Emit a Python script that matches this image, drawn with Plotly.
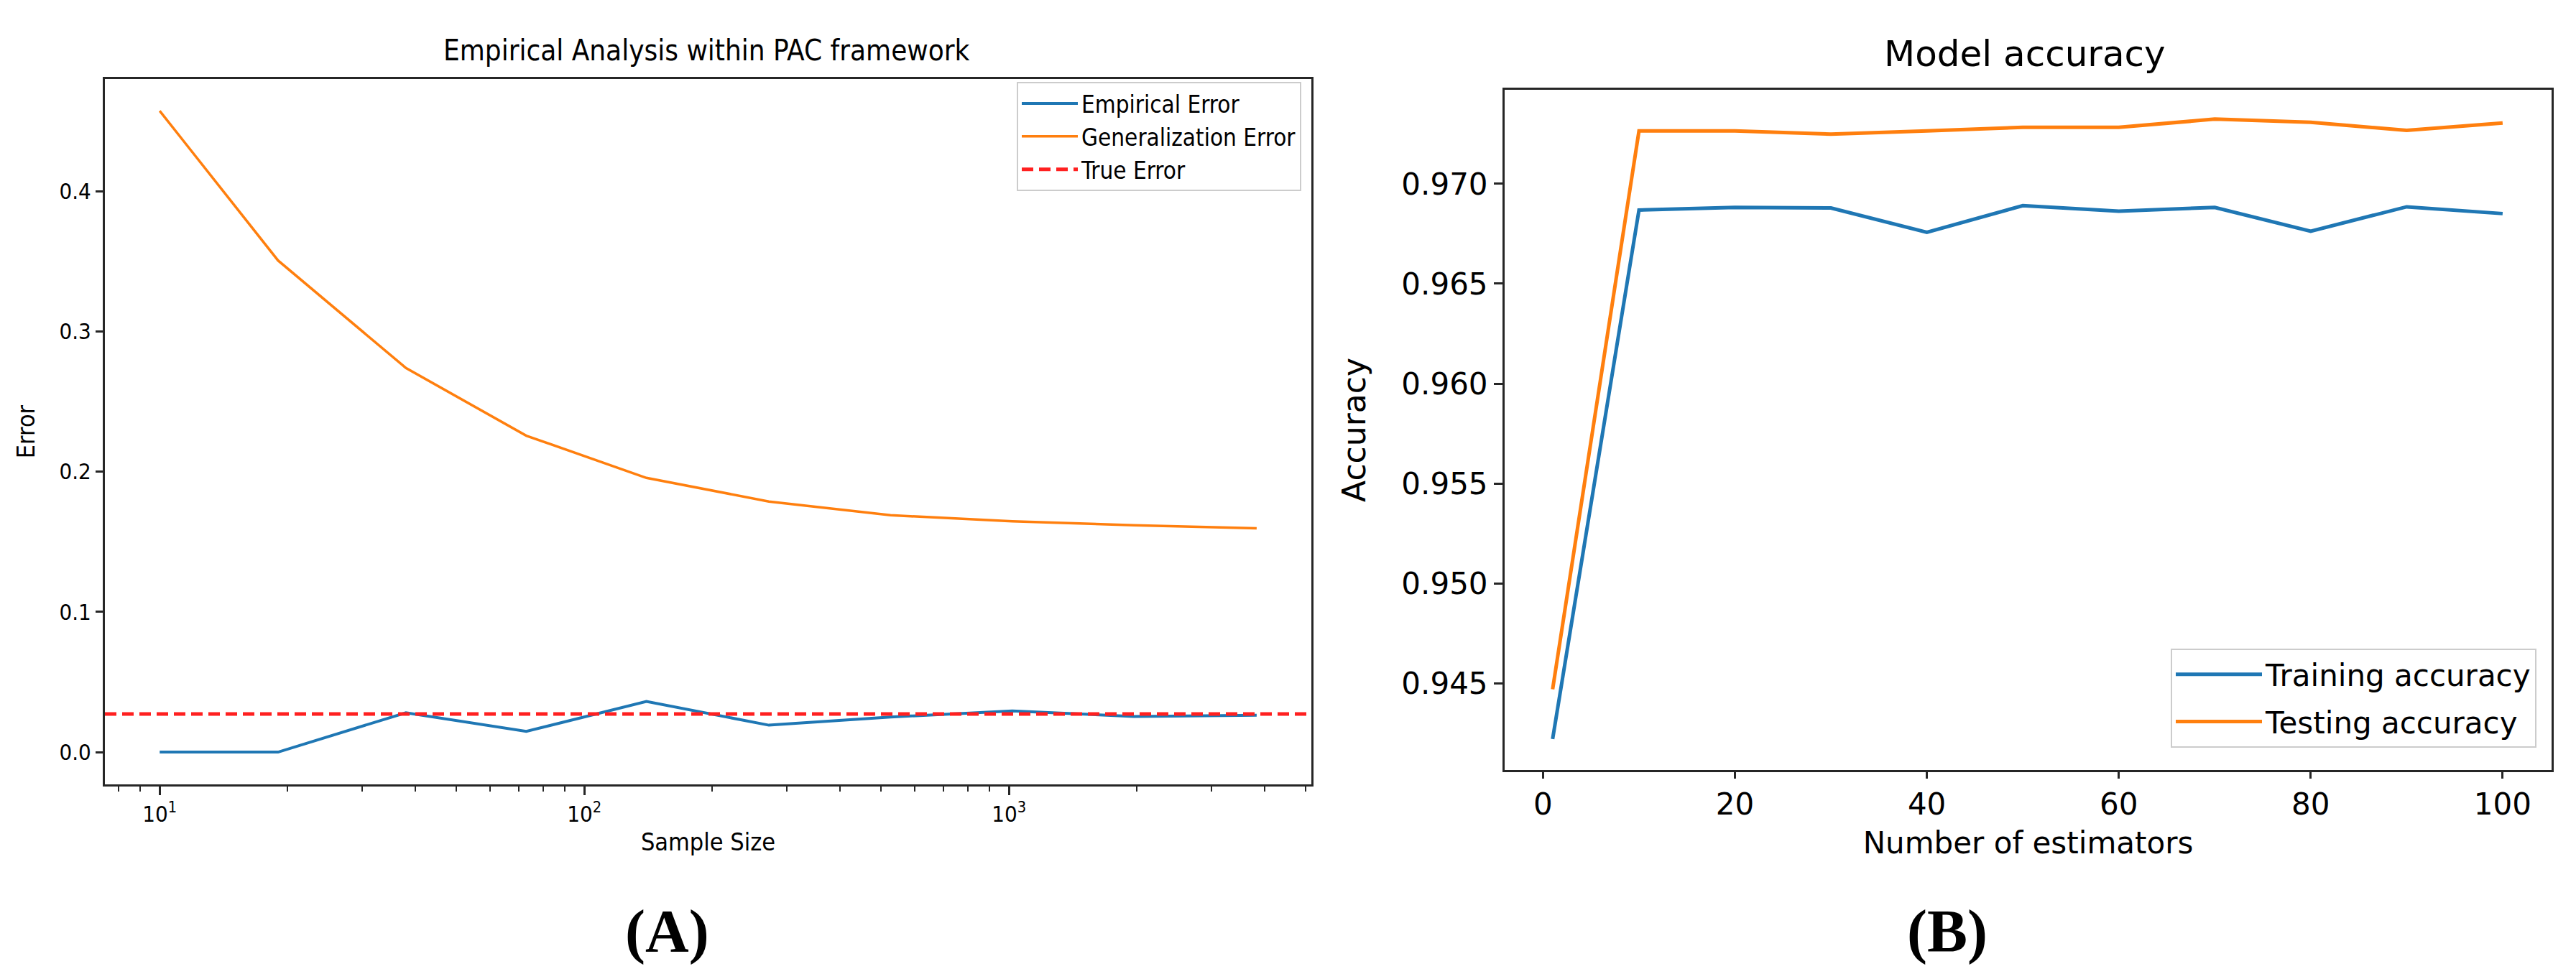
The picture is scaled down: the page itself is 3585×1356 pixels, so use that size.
import plotly.graph_objects as go

# ---------------- Panel A data ----------------
sample_sizes = [10, 19, 38, 73, 140, 272, 526, 1018, 1970, 3830]
empirical_error = [0.0, 0.0, 0.0281, 0.0148, 0.0361, 0.0192, 0.0250, 0.0294, 0.0254, 0.0263]
generalization_error = [0.4572, 0.3505, 0.2739, 0.2256, 0.1955, 0.1787, 0.1689, 0.1645, 0.1618, 0.1596]
true_error = 0.0272
a_ytick_vals = [0.0, 0.1, 0.2, 0.3, 0.4]
a_xtick_vals = [10, 100, 1000]
a_xtick_text = ["10<sup>1</sup>", "10<sup>2</sup>", "10<sup>3</sup>"]
a_minor_vals = [7, 8, 9, 20, 30, 40, 50, 60, 70, 80, 90,
                200, 300, 400, 500, 600, 700, 800, 900,
                2000, 3000, 4000, 5000]

# ---------------- Panel B data ----------------
n_estimators = [1, 10, 20, 30, 40, 50, 60, 70, 80, 90, 100]
training_acc = [0.9422, 0.96869, 0.96882, 0.96879, 0.96757, 0.96891, 0.96863, 0.96882, 0.96763, 0.96885, 0.96851]
testing_acc = [0.94469, 0.97265, 0.97265, 0.97249, 0.97265, 0.97283, 0.97283, 0.97324, 0.97308, 0.97268, 0.97305]
b_ytick_vals = [0.945, 0.950, 0.955, 0.960, 0.965, 0.970]
b_xtick_vals = [0, 20, 40, 60, 80, 100]

BLUE = "#1f77b4"
ORANGE = "#ff7f0e"
AXC = "#262626"
FA = "DejaVu Sans Condensed, DejaVu Sans, sans-serif"
FB = "DejaVu Sans, sans-serif"

fig = go.Figure()

fig.add_trace(go.Scatter(x=sample_sizes, y=empirical_error, mode="lines", name="Empirical Error",
                         line=dict(color=BLUE, width=4), xaxis="x", yaxis="y", legend="legend"))
fig.add_trace(go.Scatter(x=sample_sizes, y=generalization_error, mode="lines", name="Generalization Error",
                         line=dict(color=ORANGE, width=3.5), xaxis="x", yaxis="y", legend="legend"))
fig.add_shape(type="line", xref="x domain", yref="y", x0=0, x1=1, y0=true_error, y1=true_error,
              line=dict(color="#ff2020", width=5, dash="16px,8px"),
              showlegend=True, name="True Error", legend="legend")

fig.add_trace(go.Scatter(x=n_estimators, y=training_acc, mode="lines", name="Training accuracy",
                         line=dict(color=BLUE, width=5), xaxis="x2", yaxis="y2", legend="legend2",
                         legendgroup="train"))
fig.add_trace(go.Scatter(x=n_estimators, y=testing_acc, mode="lines", name="Testing accuracy",
                         line=dict(color=ORANGE, width=5), xaxis="x2", yaxis="y2", legend="legend2",
                         legendgroup="test"))

W, H = 3585, 1356

def px_x(p):
    return p / W

def px_y(p):
    return (H - p) / H

axis_common = dict(showline=True, linecolor=AXC, linewidth=3, mirror=True, showgrid=False,
                   zeroline=False, ticks="outside", tickcolor=AXC, tickwidth=3)

fig.update_layout(
    width=W, height=H,
    margin=dict(l=0, r=0, t=0, b=0),
    paper_bgcolor="white", plot_bgcolor="white",
    xaxis=dict(domain=[px_x(138), px_x(1817)], type="log", range=[0.871, 3.712],
               tickmode="array", tickvals=a_xtick_vals, ticktext=a_xtick_text, ticklen=12,
               tickfont=dict(family=FA, size=31, color="black"),
               minor=dict(tickmode="array", tickvals=a_minor_vals, ticks="outside", ticklen=7,
                          tickwidth=2, tickcolor=AXC, showgrid=False),
               title=dict(text="Sample Size", font=dict(family=FA, size=34, color="black"), standoff=10),
               anchor="y", **axis_common),
    yaxis=dict(domain=[px_y(1084), px_y(102)], range=[-0.023, 0.4799],
               tickmode="array", tickvals=a_ytick_vals, tickformat=".1f", ticklen=10,
               tickfont=dict(family=FA, size=31, color="black"),
               title=dict(text="Error", font=dict(family=FA, size=34, color="black"), standoff=24),
               anchor="x", **axis_common),
    xaxis2=dict(domain=[px_x(2086), px_x(3543)], range=[-4.0, 105.1],
                tickmode="array", tickvals=b_xtick_vals, ticklen=9,
                tickfont=dict(family=FB, size=42, color="black"),
                title=dict(text="Number of estimators", font=dict(family=FB, size=42, color="black"), standoff=16),
                anchor="y2", **axis_common),
    yaxis2=dict(domain=[px_y(1064), px_y(117)], range=[0.94065, 0.97471],
                tickmode="array", tickvals=b_ytick_vals, tickformat=".3f", ticklen=12,
                tickfont=dict(family=FB, size=42, color="black"),
                title=dict(text="Accuracy", font=dict(family=FB, size=44, color="black"), standoff=36),
                anchor="x2", **axis_common),
    legend=dict(x=px_x(1803), y=px_y(106), xanchor="right", yanchor="top",
                bgcolor="rgba(255,255,255,0.8)", bordercolor="#cccccc", borderwidth=2,
                itemwidth=78,
                font=dict(family=FA, size=33, color="black"), tracegroupgap=0),
    legend2=dict(x=px_x(3522), y=px_y(1033), xanchor="right", yanchor="bottom",
                 bgcolor="rgba(255,255,255,0.8)", bordercolor="#cccccc", borderwidth=2,
                 itemwidth=120, tracegroupgap=8,
                 font=dict(family=FB, size=42, color="black")),
    annotations=[
        dict(text="Empirical Analysis within PAC framework", x=px_x(975), y=px_y(62),
             xref="paper", yref="paper", showarrow=False, xanchor="center", yanchor="middle",
             font=dict(family=FA, size=40, color="black")),
        dict(text="Model accuracy", x=px_x(2810), y=px_y(67),
             xref="paper", yref="paper", showarrow=False, xanchor="center", yanchor="middle",
             font=dict(family=FB, size=50, color="black")),
        dict(text="<b>(A)</b>", x=px_x(920), y=px_y(1289),
             xref="paper", yref="paper", showarrow=False, xanchor="center", yanchor="middle",
             font=dict(family="Liberation Serif, serif", size=84, color="black")),
        dict(text="<b>(B)</b>", x=px_x(2702), y=px_y(1289),
             xref="paper", yref="paper", showarrow=False, xanchor="center", yanchor="middle",
             font=dict(family="Liberation Serif, serif", size=84, color="black")),
    ],
)

fig.write_html("out.html")
